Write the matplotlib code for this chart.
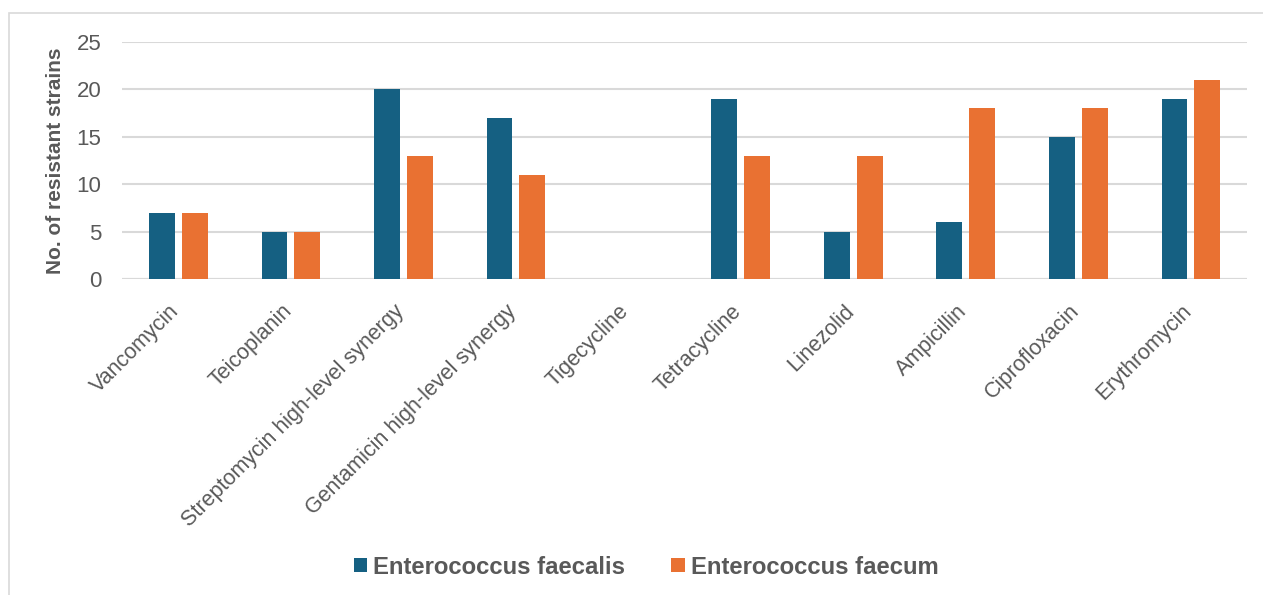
import matplotlib
matplotlib.use("Agg")
import matplotlib.pyplot as plt
import matplotlib.patches as mpatches
from matplotlib.transforms import ScaledTranslation
import numpy as np

plt.rcParams['font.family'] = ['Liberation Sans', 'DejaVu Sans']

# Data
antibiotics = ["Vancomycin", "Teicoplanin", "Streptomycin high-level synergy",
               "Gentamicin high-level synergy", "Tigecycline", "Tetracycline",
               "Linezolid", "Ampicillin", "Ciprofloxacin", "Erythromycin"]
faecalis = [7, 5, 20, 17, 0, 19, 5, 6, 15, 19]
faecum = [7, 5, 13, 11, 0, 13, 13, 18, 18, 21]
series_names = ["Enterococcus faecalis", "Enterococcus faecum"]

blue = "#156082"
orange = "#E97132"
grid_col = "#D9D9D9"
text_col = "#595959"

fig = plt.figure(figsize=(12.63, 5.95), dpi=100)
ax = fig.add_axes([122 / 1263, 1 - 279 / 595, 1125 / 1263, 237 / 595])

# outer chart border
fig.patches.append(mpatches.Rectangle((9 / 1263, -0.05), 1.1, 1 - 13 / 595 + 0.05,
                                      transform=fig.transFigure, fill=False,
                                      edgecolor=grid_col, linewidth=1.2))

x = np.arange(len(antibiotics))
w = 0.23
gap = 0.03
ax.bar(x - w / 2 - gap, faecalis, width=w, color=blue, label=series_names[0], zorder=3)
ax.bar(x + w / 2 + gap, faecum, width=w, color=orange, label=series_names[1], zorder=3)

ax.set_xlim(-0.5, len(antibiotics) - 0.5)
ax.set_ylim(0, 25)
ax.set_yticks([0, 5, 10, 15, 20, 25])
ax.yaxis.grid(True, color=grid_col, linewidth=1.5, zorder=0)
ax.set_axisbelow(True)
for s in ax.spines.values():
    s.set_visible(False)
ax.axhline(0, color=grid_col, linewidth=1.5, zorder=1)

ax.tick_params(axis='y', length=0, pad=15, labelsize=16, labelcolor=text_col)
ax.tick_params(axis='x', length=0, pad=0)
ax.set_xticks(x)
ax.set_xticklabels(antibiotics, rotation=45, ha='right', va='top',
                   rotation_mode='anchor', fontsize=15.5, color=text_col)
# move rotated labels so their ends sit under the category centres
offset = ScaledTranslation(-7 / 72, -15.5 / 72, fig.dpi_scale_trans)
for lab in ax.get_xticklabels():
    lab.set_transform(lab.get_transform() + offset)

ax.set_ylabel("No. of resistant strains", fontsize=15, fontweight='bold',
              color=text_col, labelpad=8)

fig.legend(loc='center', bbox_to_anchor=(646 / 1263, 1 - 567 / 595), ncol=2,
           frameon=False, prop={'size': 17.2, 'weight': 'bold'}, labelcolor=text_col,
           handlelength=0.55, handleheight=0.55, handletextpad=0.25, columnspacing=1.95)

fig.savefig("out.png", dpi=100)
